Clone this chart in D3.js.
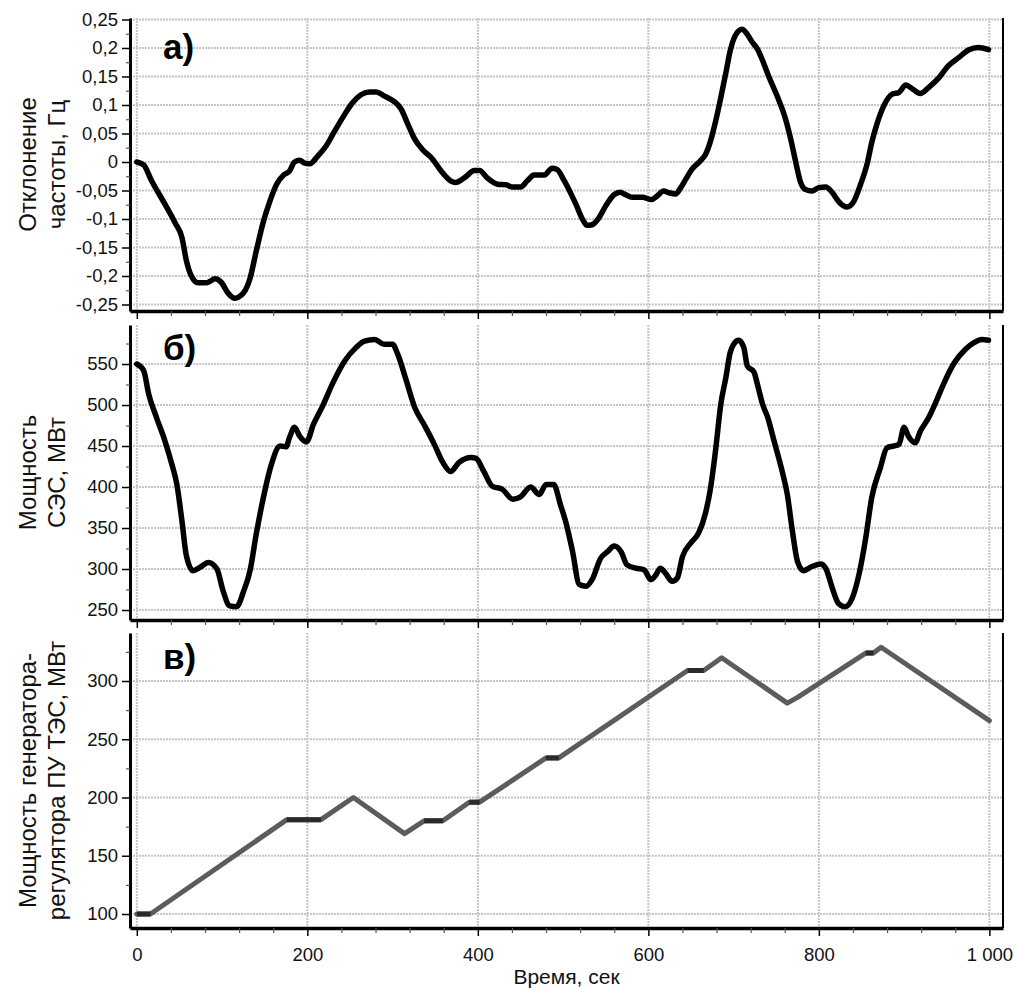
<!DOCTYPE html>
<html>
<head>
<meta charset="utf-8">
<script src="https://cdn.jsdelivr.net/npm/d3@7"></script>
<style>
  body { margin: 0; background: #fff; }
  svg { display: block; font-family: "Liberation Sans", Arial, sans-serif; }
</style>
</head>
<body>
<div id="chart"></div>
<script>
// Frequency deviation, Hz  [time s, value]
const freqData = [
  [0,0],[8,-0.005],[17,-0.032],[33,-0.074],[45,-0.107],[53,-0.133],[58,-0.172],[64,-0.2],[72,-0.212],[82,-0.212],
  [92,-0.205],[99,-0.211],[107,-0.23],[115,-0.239],[125,-0.23],[133,-0.203],[140,-0.157],[148,-0.107],[156,-0.069],
  [164,-0.039],[172,-0.023],[179,-0.016],[185,0],[191,0.003],[197,-0.002],[203,-0.003],[212,0.01],[222,0.028],
  [232,0.054],[244,0.084],[253,0.104],[263,0.118],[273,0.123],[281,0.123],[290,0.116],[302,0.106],[310,0.093],
  [318,0.066],[326,0.04],[335,0.022],[347,0.005],[357,-0.016],[368,-0.033],[374,-0.036],[384,-0.028],[396,-0.015],
  [402,-0.015],[411,-0.028],[423,-0.039],[433,-0.04],[441,-0.044],[450,-0.044],[458,-0.033],[466,-0.023],[478,-0.023],
  [487,-0.011],[493,-0.013],[501,-0.032],[509,-0.055],[515,-0.074],[523,-0.101],[528,-0.111],[534,-0.11],[542,-0.098],
  [550,-0.077],[560,-0.057],[567,-0.053],[573,-0.057],[581,-0.062],[593,-0.062],[604,-0.066],[610,-0.06],[618,-0.051],
  [624,-0.054],[632,-0.056],[638,-0.045],[644,-0.03],[651,-0.013],[661,0.002],[667,0.013],[673,0.037],[679,0.072],
  [685,0.113],[691,0.157],[696,0.195],[702,0.222],[710,0.233],[716,0.224],[722,0.21],[728,0.198],[734,0.178],
  [741,0.151],[751,0.116],[761,0.075],[767,0.04],[773,-0.001],[778,-0.033],[784,-0.048],[792,-0.051],[800,-0.045],
  [808,-0.044],[816,-0.054],[823,-0.069],[833,-0.079],[841,-0.069],[849,-0.039],[857,-0.001],[862,0.034],[868,0.066],
  [876,0.098],[886,0.119],[894,0.122],[902,0.135],[910,0.128],[919,0.12],[929,0.131],[941,0.148],[952,0.169],
  [964,0.183],[976,0.197],[987,0.201],[999,0.197]
];

// Solar plant output, MW
const sesData = [
  [0,550],[8,542],[14,513],[23,485],[33,456],[41,428],[47,403],[53,358],[58,317],[66,298],[74,302],[84,308],[94,300],
  [101,274],[109,255],[117,254],[125,272],[133,299],[140,342],[148,385],[158,428],[168,450],[175,449],[179,460],
  [185,473],[191,462],[199,455],[207,476],[218,499],[230,527],[244,554],[257,570],[267,578],[279,580],[290,574],
  [300,574],[306,562],[316,530],[326,497],[337,476],[349,452],[359,430],[368,419],[378,430],[392,436],[398,435],
  [407,419],[417,401],[429,397],[441,385],[450,388],[462,400],[472,391],[480,403],[489,403],[497,378],[503,358],
  [511,322],[519,281],[527,279],[534,287],[544,313],[552,321],[560,328],[568,321],[575,305],[585,301],[595,299],
  [603,287],[609,293],[614,301],[620,295],[628,285],[634,289],[640,315],[650,332],[659,344],[667,368],[673,399],
  [679,446],[685,501],[691,534],[696,564],[700,574],[706,579],[712,570],[716,548],[724,540],[728,525],[734,501],
  [740,485],[747,458],[757,419],[763,391],[769,346],[775,309],[782,298],[792,303],[802,306],[808,301],[816,276],
  [823,258],[831,254],[839,264],[847,293],[855,338],[862,387],[872,423],[880,448],[888,450],[894,452],[900,473],
  [905,462],[913,454],[919,468],[929,485],[937,503],[946,525],[958,550],[972,568],[982,576],[991,580],[999,579]
];

// Regulating unit output, MW
const tesData = [
  [0,100],[16,100],[176,181],[216,181],[254,200],[314,169],[337,180],[359,180],[390,196],[402,196],[480,234],
  [495,234],[646,309],[665,309],[686,320],[763,281],[775,286],[855,324],[864,324],[873,329],[1000,266]
];

const xTicks = [0, 200, 400, 600, 800, 1000];
const xMinor = [40, 80, 120, 160, 240, 280, 320, 360, 440, 480, 520, 560, 640, 680, 720, 760, 840, 880, 920, 960];
const freqTicks = [-0.25, -0.2, -0.15, -0.1, -0.05, 0, 0.05, 0.1, 0.15, 0.2, 0.25];
const freqMinor = [-0.225, -0.175, -0.125, -0.075, -0.025, 0.025, 0.075, 0.125, 0.175, 0.225];
const sesTicks = [250, 300, 350, 400, 450, 500, 550];
const sesMinor = [275, 325, 375, 425, 475, 525, 575];
const tesTicks = [100, 150, 200, 250, 300];
const tesMinor = [125, 175, 225, 275, 325];

const width = 1015, height = 989;
const left = 130, right = 1003;

const svg = d3.select("#chart").append("svg")
  .attr("width", width)
  .attr("height", height);

const x = d3.scaleLinear().domain([-8, 1016]).range([left, right]);

const commaFmt = d => d === 0 ? "0" : String(d).replace(".", ",");

const panels = [
  { label: "а)", data: freqData, top: 18, bottom: 311, domain: [-0.2614, 0.2526],
    major: freqTicks, minor: freqMinor, fmt: commaFmt, title: ["Отклонение", "частоты, Гц"],
    color: "#000", lw: 5.5, labelY: 59, curve: d3.curveMonotoneX },
  { label: "б)", data: sesData, top: 325, bottom: 620, domain: [237.8, 597.6],
    major: sesTicks, minor: sesMinor, fmt: d => d, title: ["Мощность", "СЭС, МВт"],
    color: "#000", lw: 5.5, labelY: 360, curve: d3.curveMonotoneX },
  { label: "в)", data: tesData, top: 633, bottom: 928, domain: [88, 341.2],
    major: tesTicks, minor: tesMinor, fmt: d => d, title: ["Мощность генератора-", "регулятора ПУ ТЭС, МВт"],
    color: "#5c5c5c", lw: 5, labelY: 669, curve: d3.curveLinear }
];

panels.forEach((p, i) => {
  const y = d3.scaleLinear().domain(p.domain).range([p.bottom, p.top]);
  const g = svg.append("g");

  // grid
  g.append("g").selectAll("line")
    .data(p.major)
    .join("line")
      .attr("x1", left).attr("x2", right)
      .attr("y1", d => y(d)).attr("y2", d => y(d))
      .attr("stroke", "#c6c6c6").attr("stroke-width", 2).attr("stroke-dasharray", "2,1");
  g.append("g").selectAll("line")
    .data(xTicks)
    .join("line")
      .attr("x1", d => x(d)).attr("x2", d => x(d))
      .attr("y1", p.top).attr("y2", p.bottom)
      .attr("stroke", "#c6c6c6").attr("stroke-width", 2).attr("stroke-dasharray", "2,1");

  // series
  const line = d3.line().x(d => x(d[0])).y(d => y(d[1])).curve(p.curve);
  g.append("path")
    .datum(p.data)
    .attr("fill", "none")
    .attr("stroke", p.color)
    .attr("stroke-width", p.lw)
    .attr("stroke-linejoin", "round")
    .attr("stroke-linecap", "round")
    .attr("d", line);

  // flat pieces of the regulator line look darker
  if (i === 2) {
    const flats = [];
    for (let k = 1; k < p.data.length; k++) {
      if (p.data[k][1] === p.data[k - 1][1]) flats.push([p.data[k - 1], p.data[k]]);
    }
    g.append("g").selectAll("path")
      .data(flats)
      .join("path")
        .attr("fill", "none")
        .attr("stroke", "#2a2a2a")
        .attr("stroke-width", p.lw)
        .attr("d", d3.line().x(d => x(d[0])).y(d => y(d[1])));
  }

  // left axis, major + minor
  const ay = g.append("g")
    .attr("transform", `translate(${left},0)`)
    .call(d3.axisLeft(y).tickValues(p.major).tickSize(8).tickSizeOuter(0).tickPadding(4).tickFormat(p.fmt));
  ay.select(".domain").attr("stroke-width", 3);
  ay.selectAll(".tick line").attr("stroke-width", 1.5);
  ay.selectAll("text").attr("font-size", 18.5).attr("fill", "#111");

  const ayMin = g.append("g")
    .attr("transform", `translate(${left},0)`)
    .call(d3.axisLeft(y).tickValues(p.minor).tickSize(4).tickSizeOuter(0).tickFormat(""));
  ayMin.select(".domain").remove();
  ayMin.selectAll(".tick line").attr("stroke", "#555").attr("stroke-width", 1.2);

  // bottom axis
  const ax = g.append("g")
    .attr("transform", `translate(0,${p.bottom})`)
    .call(d3.axisBottom(x).tickValues(xTicks).tickSize(8).tickSizeOuter(0).tickPadding(12)
      .tickFormat(i === 2 ? (d => d === 1000 ? "1\u00a0000" : d) : ""));
  ax.select(".domain").attr("stroke-width", 3.5);
  ax.selectAll(".tick line").attr("stroke-width", 1.5);
  ax.selectAll("text").attr("font-size", 18.5).attr("fill", "#111");

  const axMin = g.append("g")
    .attr("transform", `translate(0,${p.bottom})`)
    .call(d3.axisBottom(x).tickValues(xMinor).tickSize(5).tickSizeOuter(0).tickFormat(""));
  axMin.select(".domain").remove();
  axMin.selectAll(".tick line").attr("stroke", "#555").attr("stroke-width", 1.2);

  // right border
  g.append("line")
    .attr("x1", right).attr("x2", right)
    .attr("y1", p.top).attr("y2", p.bottom)
    .attr("stroke", "#000").attr("stroke-width", 2);

  // panel letter
  g.append("text")
    .attr("x", 163).attr("y", p.labelY)
    .attr("font-size", 35).attr("font-weight", "bold")
    .text(p.label);

  // y title, two lines
  const cy = (p.top + p.bottom) / 2;
  g.append("g")
    .attr("transform", `translate(0,${cy}) rotate(-90)`)
    .selectAll("text")
    .data(p.title)
    .join("text")
      .attr("x", 0)
      .attr("y", (d, k) => 36 + k * 29)
      .attr("text-anchor", "middle")
      .attr("font-size", 24)
      .attr("fill", "#111")
      .text(d => d);
});

svg.append("text")
  .attr("x", (left + right) / 2)
  .attr("y", 984)
  .attr("text-anchor", "middle")
  .attr("font-size", 21)
  .attr("fill", "#111")
  .text("Время, сек");
</script>
</body>
</html>
